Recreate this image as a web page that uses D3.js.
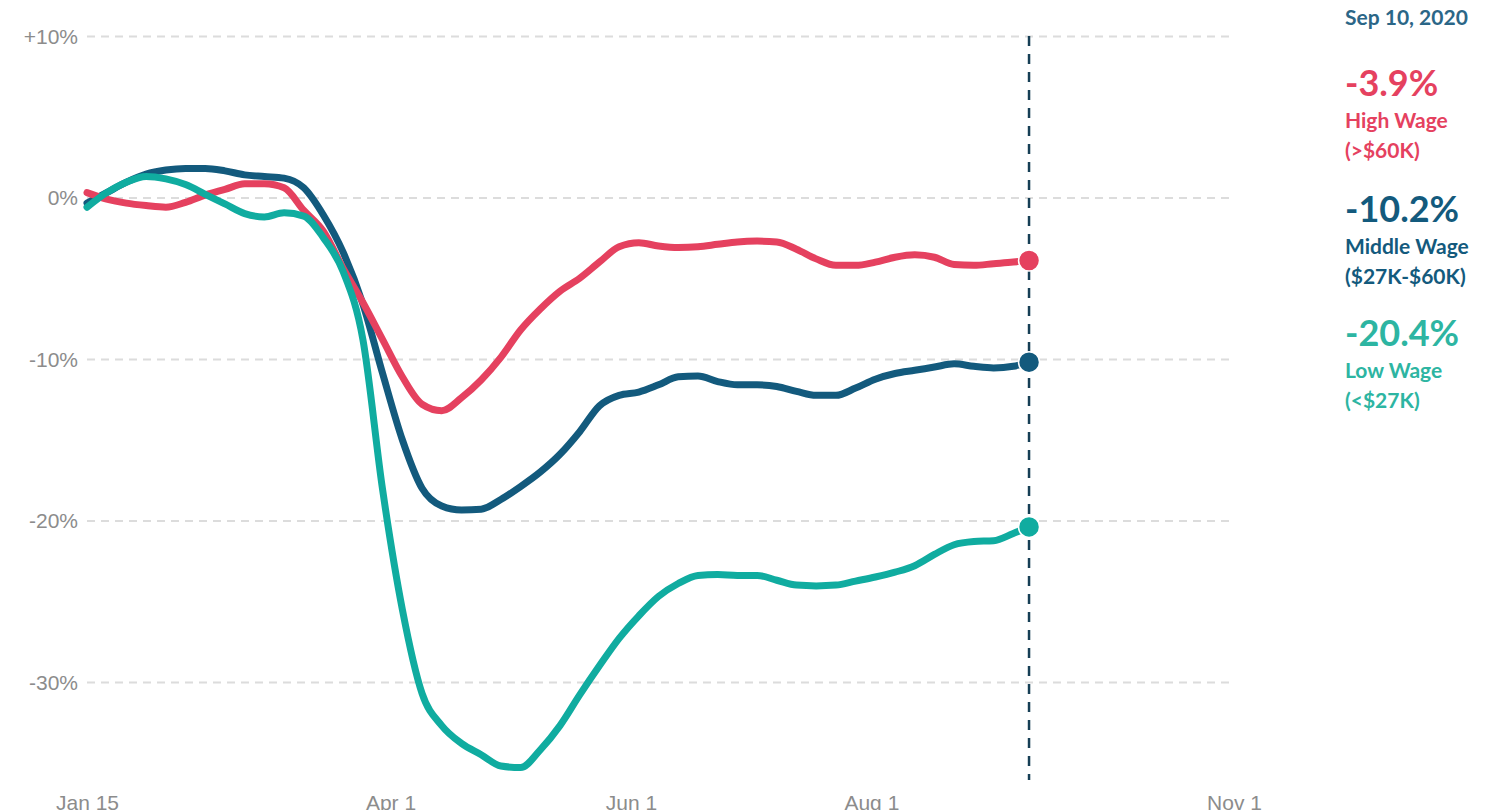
<!DOCTYPE html>
<html>
<head>
<meta charset="utf-8">
<script src="https://cdn.jsdelivr.net/npm/d3@7"></script>
<style>
  html, body { margin: 0; padding: 0; background: #ffffff; }
  svg { display: block; }
</style>
</head>
<body>
<svg id="chart" width="1486" height="810"></svg>
<script>
// ---------- DATA ----------
const dates = [
  "2020-01-15","2020-01-20","2020-01-25","2020-01-30","2020-02-04","2020-02-09","2020-02-14",
  "2020-02-19","2020-02-24","2020-02-29","2020-03-05","2020-03-10","2020-03-15","2020-03-20",
  "2020-03-25","2020-03-30","2020-04-04","2020-04-09","2020-04-14","2020-04-19","2020-04-24",
  "2020-04-29","2020-05-04","2020-05-09","2020-05-14","2020-05-19","2020-05-24","2020-05-29",
  "2020-06-03","2020-06-08","2020-06-13","2020-06-18","2020-06-23","2020-06-28","2020-07-03",
  "2020-07-08","2020-07-13","2020-07-18","2020-07-23","2020-07-28","2020-08-02","2020-08-07",
  "2020-08-12","2020-08-17","2020-08-22","2020-08-27","2020-09-01","2020-09-06","2020-09-10"
];
const highWage = [
  0.3, -0.1, -0.35, -0.5, -0.6, -0.3, 0.15,
  0.5, 0.85, 0.85, 0.6, -0.8, -2.1, -4.4,
  -6.5, -8.8, -11.1, -12.8, -13.2, -12.4, -11.3,
  -9.9, -8.2, -6.9, -5.8, -5.0, -4.0, -3.05,
  -2.8, -3.0, -3.1, -3.05, -2.9, -2.75, -2.7,
  -2.75, -3.2, -3.8, -4.2, -4.2, -4.0, -3.7,
  -3.55, -3.7, -4.15, -4.2, -4.1, -4.0, -3.9
];
const middleWage = [
  -0.35, 0.3, 0.95, 1.45, 1.7, 1.8, 1.8,
  1.65, 1.4, 1.3, 1.2, 0.6, -1.1, -3.4,
  -6.6, -10.9, -15.0, -18.0, -19.1, -19.35, -19.3,
  -18.7, -17.9, -17.0, -15.9, -14.5, -12.9, -12.25,
  -12.05, -11.6, -11.1, -11.05, -11.4, -11.6, -11.6,
  -11.7, -12.0, -12.25, -12.25, -11.8, -11.25, -10.9,
  -10.7, -10.5, -10.3, -10.45, -10.55, -10.45, -10.2
];
const lowWage = [
  -0.6, 0.3, 0.95, 1.3, 1.15, 0.8, 0.2,
  -0.4, -1.0, -1.2, -0.95, -1.15, -2.5, -4.6,
  -8.8, -18.1, -25.5, -30.7, -32.7, -33.8, -34.5,
  -35.2, -35.3, -34.2, -32.7, -30.8, -29.0, -27.3,
  -25.9, -24.7, -23.9, -23.4, -23.35, -23.4, -23.4,
  -23.7, -24.0, -24.05, -24.0, -23.75, -23.5, -23.2,
  -22.8, -22.1, -21.5, -21.3, -21.25, -20.8, -20.4
];
const seriesNames = ["High Wage", "Middle Wage", "Low Wage"];
const seriesRanges = ["(>$60K)", "($27K-$60K)", "(<$27K)"];
const latestLabels = ["-3.9%", "-10.2%", "-20.4%"];
const latestDateLabel = "Sep 10, 2020";
const xTickDates = ["2020-01-15", "2020-04-01", "2020-06-01", "2020-08-01", "2020-11-01"];
const xTickLabels = ["Jan 15", "Apr 1", "Jun 1", "Aug 1", "Nov 1"];
const yTickValues = [10, 0, -10, -20, -30];
const yTickLabels = ["+10%", "0%", "-10%", "-20%", "-30%"];
const xDomain = ["2020-01-15", "2020-11-01"];
const yDomain = [-36, 10];

// ---------- STYLE ----------
const colors = { high: "#e5415f", middle: "#135a7d", low: "#10aca0" };
const textColors = { high: "#e5415f", middle: "#135a7d", low: "#2db5a2", date: "#2b6687" };

const parse = d3.utcParse("%Y-%m-%d");
const svg = d3.select("#chart");

const x = d3.scaleUtc().domain(xDomain.map(parse)).range([87, 1234]);
const y = d3.scaleLinear().domain(yDomain).range([778.9, 36]);

// gridlines
const yAxis = d3.axisLeft(y).tickValues(yTickValues).tickSize(-(1234 - 87))
  .tickFormat((d, i) => yTickLabels[i]);
const gy = svg.append("g").attr("transform", "translate(87,0)").call(yAxis);
gy.select(".domain").remove();
gy.selectAll(".tick line").attr("stroke", "#dcdcdc").attr("stroke-width", 2)
  .attr("stroke-dasharray", "8,6");
gy.selectAll(".tick text").attr("x", -9).attr("fill", "#8c8c8c")
  .attr("font-family", "Liberation Sans, Arial, sans-serif").attr("font-size", 21)
  .attr("dy", "0.35em");

// x axis labels (partly cut by the bottom edge, as in the original)
const xAxis = d3.axisBottom(x).tickValues(xTickDates.map(parse))
  .tickFormat((d, i) => xTickLabels[i]).tickSize(0);
const gx = svg.append("g").attr("transform", "translate(0,795)").call(xAxis);
gx.select(".domain").remove();
gx.selectAll(".tick text").attr("fill", "#8c8c8c").attr("y", 0).attr("dy", "0.71em")
  .attr("font-family", "Liberation Sans, Arial, sans-serif").attr("font-size", 21);

// vertical marker line at latest date
const lastDate = parse(dates[dates.length - 1]);
svg.append("line")
  .attr("x1", x(lastDate)).attr("x2", x(lastDate))
  .attr("y1", y(10)).attr("y2", 780)
  .attr("stroke", "#163f55").attr("stroke-width", 2.5)
  .attr("stroke-dasharray", "10,8");

// lines
const series = [
  { key: "middle", values: middleWage },
  { key: "high", values: highWage },
  { key: "low", values: lowWage }
];
const line = d3.line()
  .x((d, i) => x(parse(dates[i])))
  .y(d => y(d))
  .curve(d3.curveMonotoneX);

series.forEach(s => {
  svg.append("path")
    .datum(s.values)
    .attr("d", line)
    .attr("fill", "none")
    .attr("stroke", colors[s.key])
    .attr("stroke-width", 7)
    .attr("stroke-linecap", "round")
    .attr("stroke-linejoin", "round");
});
series.forEach(s => {
  svg.append("circle")
    .attr("cx", x(lastDate))
    .attr("cy", y(s.values[s.values.length - 1]))
    .attr("r", 10.5)
    .attr("fill", colors[s.key])
    .attr("stroke", "#ffffff").attr("stroke-width", 1.5);
});

// legend
const lx = 1345;
const font = "Lato, 'Source Sans Pro', 'Open Sans', sans-serif";
svg.append("text").attr("x", lx).attr("y", 25).text(latestDateLabel)
  .attr("fill", textColors.date).attr("font-family", font).attr("font-weight", 700).attr("font-size", 21);

const keys = ["high", "middle", "low"];
const bigBase = [96, 222, 346];
keys.forEach((k, i) => {
  svg.append("text").attr("x", lx).attr("y", bigBase[i]).text(latestLabels[i])
    .attr("fill", textColors[k]).attr("font-family", font).attr("font-weight", 700).attr("font-size", 36);
  svg.append("text").attr("x", lx).attr("y", bigBase[i] + 32).text(seriesNames[i])
    .attr("fill", textColors[k]).attr("font-family", font).attr("font-weight", 700).attr("font-size", 21);
  svg.append("text").attr("x", lx).attr("y", bigBase[i] + 62).text(seriesRanges[i])
    .attr("fill", textColors[k]).attr("font-family", font).attr("font-weight", 700).attr("font-size", 21);
});
</script>
</body>
</html>
